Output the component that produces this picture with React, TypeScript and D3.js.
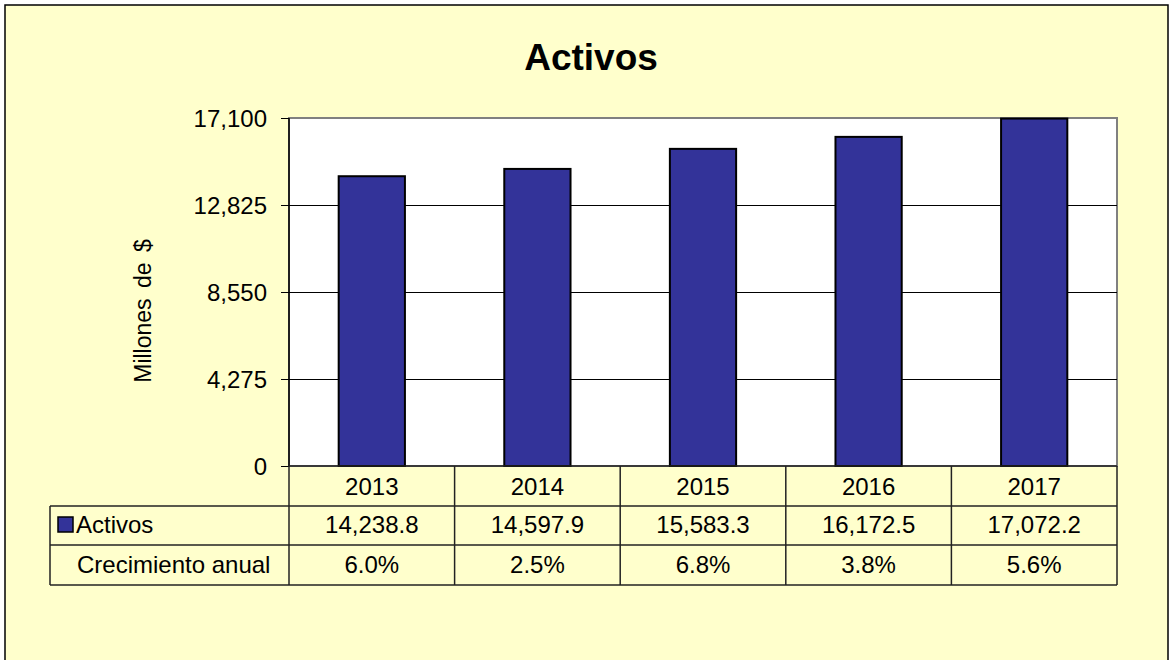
import React from "react";
import * as d3 from "d3";

const years = ["2013", "2014", "2015", "2016", "2017"];
const activos = [14238.8, 14597.9, 15583.3, 16172.5, 17072.2];
const crecimiento = ["6.0%", "2.5%", "6.8%", "3.8%", "5.6%"];
const yTicks = [0, 4275, 8550, 12825, 17100];
const title = "Activos";
const yLabel = "Millones de $";
const seriesName = "Activos";
const growthName = "Crecimiento anual";

const W = 1170;
const H = 660;
const FONT = "'Liberation Sans', Arial, sans-serif";
const BAR = "#333399";
const BG = "#FFFFCC";

export default function App() {
  const left = 289, right = 1117, top = 118, bottom = 466;
  const tableLeft = 50;
  const rowH = [bottom, 506, 545, 585];

  const x = d3.scaleBand<string>().domain(years).range([left, right]).paddingInner(0.6).paddingOuter(0.3);
  const cell = d3.scaleBand<string>().domain(years).range([left, right]);
  const y = d3.scaleLinear().domain([0, 17100]).range([bottom, top]);
  const fmtTick = d3.format(",");
  const fmtVal = d3.format(",.1f");
  const r = (v: number) => Math.round(v) + 0.5;

  return (
    <svg width={W} height={H} style={{ position: "absolute", left: 0, top: 0, display: "block" }} fontFamily={FONT}>
      <rect x={0} y={0} width={W} height={H} fill="#ffffff" />
      <rect x={5} y={5} width={1163} height={H + 20} fill={BG} stroke="#000" strokeWidth={1.5} />
      <text x={591} y={70} textAnchor="middle" fontSize={37} fontWeight="bold" fill="#000">{title}</text>

      {/* plot area */}
      <rect x={left} y={top} width={right - left} height={bottom - top} fill="#fff" stroke="#808080" strokeWidth={2} />
      {yTicks.slice(1, -1).map((t) => (
        <line key={t} x1={left} x2={right} y1={r(y(t))} y2={r(y(t))} stroke="#000" strokeWidth={1} shapeRendering="crispEdges" />
      ))}
      {yTicks.map((t) => (
        <g key={"t" + t}>
          <line x1={281} x2={left} y1={r(y(t))} y2={r(y(t))} stroke="#000" strokeWidth={1} shapeRendering="crispEdges" />
          <text x={267} y={y(t) + 8.5} textAnchor="end" fontSize={24} fill="#000">{fmtTick(t)}</text>
        </g>
      ))}
      <text transform={`translate(151,311) rotate(-90)`} textAnchor="middle" fontSize={23} fill="#000" wordSpacing={4}>{yLabel}</text>

      {years.map((yr, i) => (
        <rect key={yr} x={x(yr)} y={y(activos[i])} width={x.bandwidth()} height={bottom - y(activos[i])} fill={BAR} stroke="#000" strokeWidth={2} />
      ))}
      <line x1={left} x2={left} y1={top} y2={bottom} stroke="#000" strokeWidth={1.5} />

      {/* data table */}
      <g stroke="#222" strokeWidth={1.5} fill="none">
        <line x1={left} x2={right} y1={rowH[0]} y2={rowH[0]} />
        <line x1={tableLeft} x2={right} y1={rowH[1]} y2={rowH[1]} />
        <line x1={tableLeft} x2={right} y1={rowH[2]} y2={rowH[2]} />
        <line x1={tableLeft} x2={right} y1={rowH[3]} y2={rowH[3]} />
        <line x1={tableLeft} x2={tableLeft} y1={rowH[1]} y2={rowH[3]} />
        {years.map((yr) => (
          <line key={"v" + yr} x1={cell(yr)} x2={cell(yr)} y1={rowH[0]} y2={rowH[3]} />
        ))}
        <line x1={right} x2={right} y1={rowH[0]} y2={rowH[3]} />
      </g>
      <rect x={58} y={517} width={15} height={15} fill={BAR} stroke="#000" strokeWidth={1.5} />
      <text x={76} y={533} fontSize={24} fill="#000">{seriesName}</text>
      <text x={77} y={573} fontSize={24} fill="#000">{growthName}</text>
      {years.map((yr, i) => {
        const cx = (cell(yr) as number) + cell.bandwidth() / 2;
        return (
          <g key={"c" + yr} fontSize={24} fill="#000" textAnchor="middle">
            <text x={cx} y={495}>{yr}</text>
            <text x={cx} y={533}>{fmtVal(activos[i])}</text>
            <text x={cx} y={573}>{crecimiento[i]}</text>
          </g>
        );
      })}
    </svg>
  );
}
